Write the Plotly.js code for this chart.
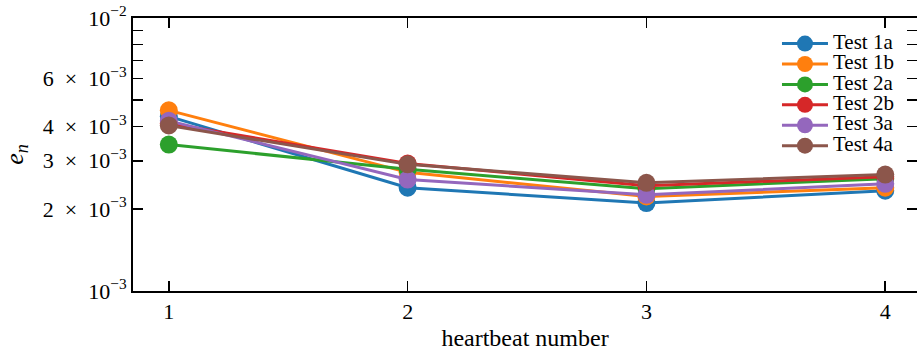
<!DOCTYPE html>
<html>
<head>
<meta charset="utf-8">
<script src="https://cdn.plot.ly/plotly-3.0.1.min.js"></script>
<style>html,body{margin:0;padding:0;background:#fff;}#chart{width:917px;height:354px;}</style>
</head>
<body>
<div id="chart"></div>
<script>
const heartbeats = [1, 2, 3, 4];
const seriesNames = ["Test 1a", "Test 1b", "Test 2a", "Test 2b", "Test 3a", "Test 4a"];
const test1a = [4.36e-3, 2.39e-3, 2.10e-3, 2.33e-3];
const test1b = [4.59e-3, 2.72e-3, 2.22e-3, 2.39e-3];
const test2a = [3.44e-3, 2.79e-3, 2.37e-3, 2.58e-3];
const test2b = [4.11e-3, 2.93e-3, 2.43e-3, 2.62e-3];
const test3a = [4.20e-3, 2.56e-3, 2.25e-3, 2.47e-3];
const test4a = [4.04e-3, 2.91e-3, 2.49e-3, 2.67e-3];
const colors = ["#1f77b4", "#ff7f0e", "#2ca02c", "#d62728", "#9467bd", "#8c564b"];
const yTickVals = [1e-3, 2e-3, 3e-3, 4e-3, 5e-3, 6e-3, 7e-3, 8e-3, 9e-3, 1e-2];
const yTickText = ["10<sup>−3</sup>", "2\u2002×\u200210<sup>−3</sup>", "3\u2002×\u200210<sup>−3</sup>", "4\u2002×\u200210<sup>−3</sup>", "", "6\u2002×\u200210<sup>−3</sup>", "", "", "", "10<sup>−2</sup>"];
const xTickVals = [1, 2, 3, 4];

const allSeries = [test1a, test1b, test2a, test2b, test3a, test4a];
const traces = allSeries.map((ys, i) => ({
  x: heartbeats, y: ys,
  name: '<span style="font-size:21px">' + seriesNames[i] + '</span>',
  type: "scatter", mode: "lines+markers",
  line: {color: colors[i], width: 3},
  marker: {color: colors[i], size: 18}
}));

const FAM = "Liberation Serif";
const layout = {
  width: 917, height: 354,
  margin: {l: 133, r: 0, t: 18, b: 63},
  paper_bgcolor: "#fff", plot_bgcolor: "#fff",
  font: {family: FAM, size: 20, color: "#000"},
  showlegend: true,
  legend: {x: 0.8214, y: 0.962, xanchor: "left", yanchor: "top", bgcolor: "rgba(255,255,255,0)",
           itemwidth: 46,
           font: {family: FAM, size: 13.4, color: "#000"}, tracegroupgap: 0},
  xaxis: {
    range: [0.85, 4.133], tickvals: xTickVals, ticktext: xTickVals.map(String),
    ticks: "inside", ticklen: 10, tickwidth: 1.5, tickcolor: "#000",
    showline: true, linecolor: "#000", linewidth: 2, mirror: "allticks",
    showgrid: false, zeroline: false,
    tickfont: {family: FAM, size: 22, color: "#000"},
    title: {text: "heartbeat number", font: {family: FAM, size: 24, color: "#000"}, standoff: 6}
  },
  yaxis: {
    type: "log", range: [-3, -2], tickmode: "array", tickvals: yTickVals, ticktext: yTickText,
    ticks: "inside", ticklen: 10, tickwidth: 1.5, tickcolor: "#000",
    showline: true, linecolor: "#000", linewidth: 2, mirror: "allticks",
    showgrid: false, zeroline: false,
    tickfont: {family: FAM, size: 22, color: "#000"},
    title: {text: "<i>e</i><sub><i>n</i></sub>", font: {family: FAM, size: 26, color: "#000"}, standoff: 36}
  }
};
Plotly.newPlot("chart", traces, layout, {displayModeBar: false, staticPlot: true});
</script>
</body>
</html>
